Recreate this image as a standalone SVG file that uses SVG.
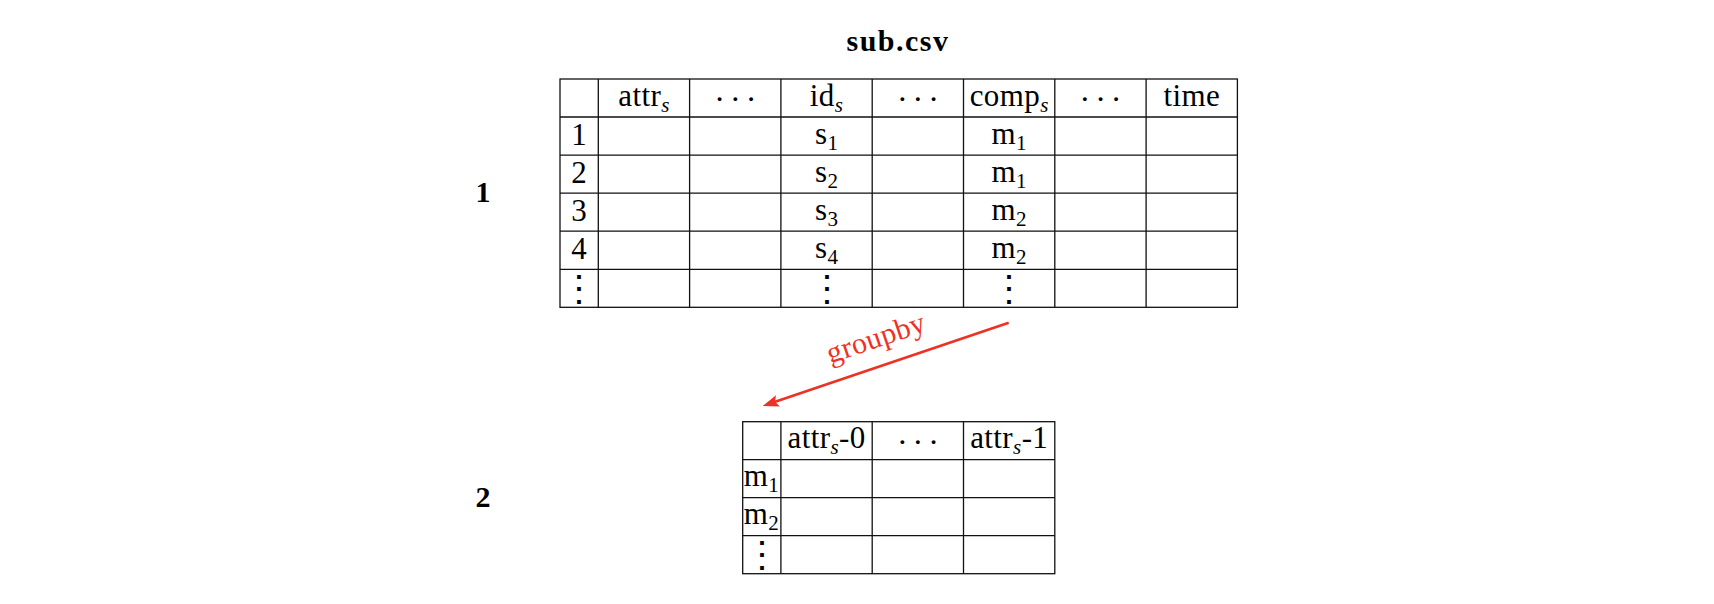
<svg xmlns="http://www.w3.org/2000/svg" width="1714" height="604" viewBox="0 0 1714 604">
<style>
.grid{fill:none;stroke:#111;stroke-width:1.3}
.t{font-family:"Liberation Serif","Times New Roman",serif;font-size:31px;fill:#000;text-anchor:middle;letter-spacing:0.4px}
.sub{font-style:italic;font-size:21px}
.subn{font-size:21px}
.cd{font-family:"Liberation Serif","Times New Roman",serif;font-size:32px;fill:#000;text-anchor:middle;letter-spacing:5px}
.vd{font-family:"DejaVu Serif",serif;font-size:36px;fill:#000;text-anchor:middle}
.b{font-family:"Liberation Serif","Times New Roman",serif;font-weight:bold;font-size:30px;fill:#000;text-anchor:middle}
.lbl{font-family:"Liberation Serif","Times New Roman",serif;font-size:30px;fill:#ee3124;text-anchor:middle;letter-spacing:0.4px}
.arrow{stroke:#ee3124;stroke-width:2.6;fill:none}
</style>
<defs>
<marker id="ah" markerUnits="userSpaceOnUse" markerWidth="17" markerHeight="12" refX="6" refY="6" orient="auto">
<path d="M0,0 L16,6 L0,12 L3,6 z" fill="#ee3124"/>
</marker>
</defs>
<rect width="1714" height="604" fill="#fff"/>

<text id="title" class="b" x="898" y="51" letter-spacing="1.5">sub.csv</text>

<g id="label1"><text class="b" x="483" y="202">1</text></g>
<g id="label2"><text class="b" x="483" y="507">2</text></g>

<g id="table1">
<rect class="grid" x="560" y="79" width="677.4" height="228.3"/>
<path class="grid" d="M598.3,79V307.3M689.6,79V307.3M780.9,79V307.3M872.2,79V307.3M963.5,79V307.3M1054.8,79V307.3M1146.1,79V307.3M560,117H1237.4M560,155.1H1237.4M560,193.2H1237.4M560,231.2H1237.4M560,269.3H1237.4"/>
<text class="t" x="644" y="106">attr<tspan class="sub" dy="6">s</tspan></text>
<text class="cd" x="737.8" y="109.5">···</text>
<text class="t" x="826.6" y="106">id<tspan class="sub" dy="6">s</tspan></text>
<text class="cd" x="920.4" y="109.5">···</text>
<text class="t" x="1009.2" y="106">comp<tspan class="sub" dy="6">s</tspan></text>
<text class="cd" x="1103" y="109.5">···</text>
<text class="t" x="1191.8" y="106">time</text>
<text class="t" x="579.2" y="145">1</text>
<text class="t" x="579.2" y="183">2</text>
<text class="t" x="579.2" y="221">3</text>
<text class="t" x="579.2" y="259">4</text>
<text class="t" x="826.6" y="144">s<tspan class="subn" dy="6">1</tspan></text>
<text class="t" x="826.6" y="182">s<tspan class="subn" dy="6">2</tspan></text>
<text class="t" x="826.6" y="220">s<tspan class="subn" dy="6">3</tspan></text>
<text class="t" x="826.6" y="258">s<tspan class="subn" dy="6">4</tspan></text>
<text class="t" x="1009.2" y="144">m<tspan class="subn" dy="6">1</tspan></text>
<text class="t" x="1009.2" y="182">m<tspan class="subn" dy="6">1</tspan></text>
<text class="t" x="1009.2" y="220">m<tspan class="subn" dy="6">2</tspan></text>
<text class="t" x="1009.2" y="258">m<tspan class="subn" dy="6">2</tspan></text>
<text class="vd" x="579.2" y="301">⋮</text>
<text class="vd" x="826.6" y="301">⋮</text>
<text class="vd" x="1009.2" y="301">⋮</text>
</g>

<g id="table2">
<rect class="grid" x="742.7" y="421.7" width="312.1" height="152"/>
<path class="grid" d="M780.9,421.7V573.7M872.2,421.7V573.7M963.5,421.7V573.7M742.7,459.7H1054.8M742.7,497.7H1054.8M742.7,535.7H1054.8"/>
<text class="t" x="826.6" y="448">attr<tspan class="sub" dy="6">s</tspan><tspan dy="-6">-0</tspan></text>
<text class="cd" x="920.4" y="453">···</text>
<text class="t" x="1009.2" y="448">attr<tspan class="sub" dy="6">s</tspan><tspan dy="-6">-1</tspan></text>
<text class="t" x="761.5" y="486">m<tspan class="subn" dy="6">1</tspan></text>
<text class="t" x="761.5" y="524">m<tspan class="subn" dy="6">2</tspan></text>
<text class="vd" x="761.8" y="567.4">⋮</text>
</g>

<g id="connectors">
<line class="arrow" x1="1008.7" y1="322.7" x2="772.2" y2="402.8" marker-end="url(#ah)"/>
<text class="lbl" x="879" y="347" transform="rotate(-18.7 879 347)">groupby</text>
</g>
</svg>
